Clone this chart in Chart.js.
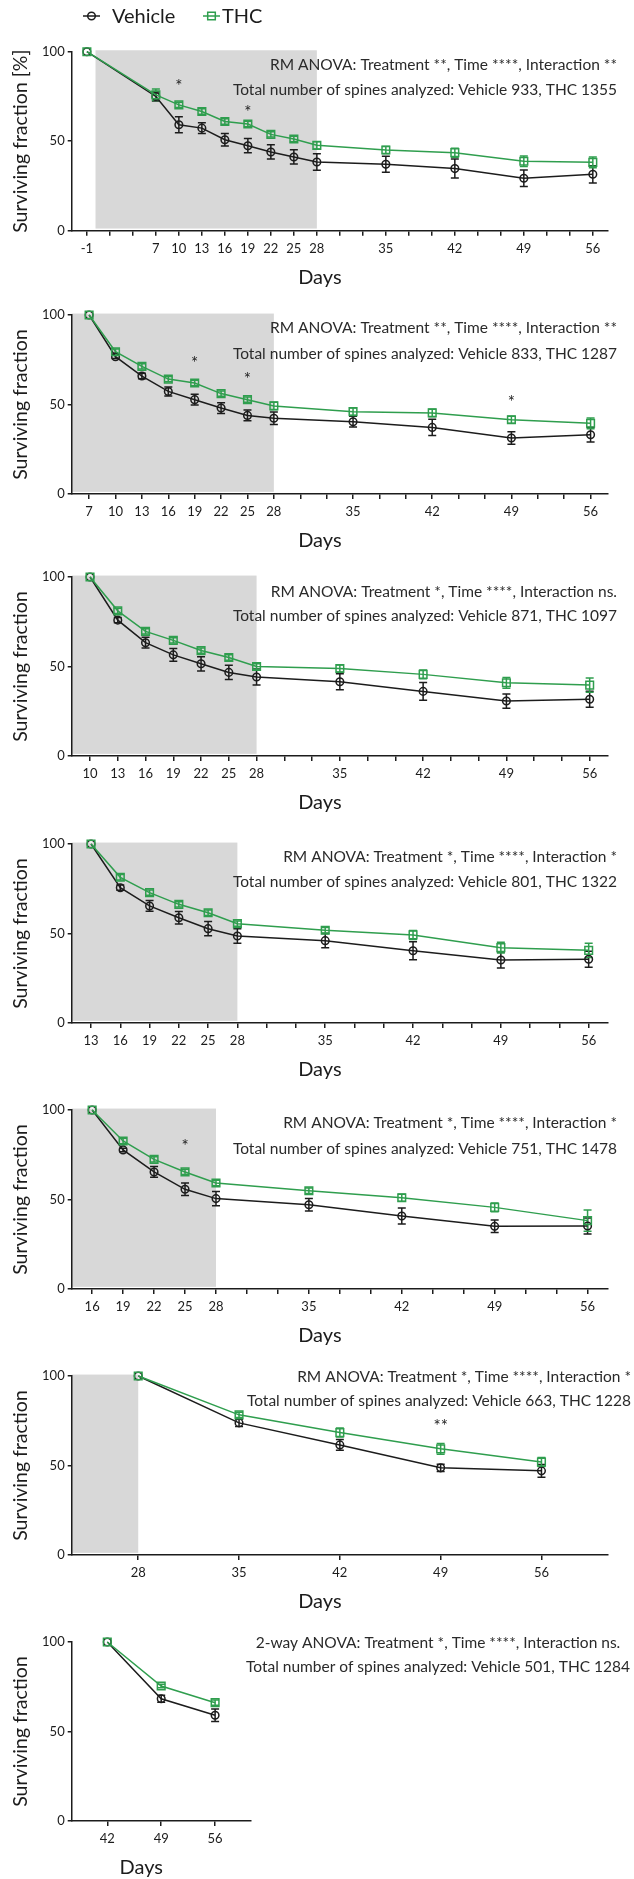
<!DOCTYPE html>
<html>
<head>
<meta charset="utf-8">
<script src="https://cdn.jsdelivr.net/npm/chart.js@4.4.0/dist/chart.umd.min.js"></script>
<style>
  html, body { margin: 0; padding: 0; background: #fff; }
  body { position: relative; width: 634px; height: 1879px; overflow: hidden; }
  canvas { position: absolute; left: 0; }
</style>
</head>
<body>
<canvas id="p1"></canvas>
<canvas id="p2"></canvas>
<canvas id="p3"></canvas>
<canvas id="p4"></canvas>
<canvas id="p5"></canvas>
<canvas id="p6"></canvas>
<canvas id="p7"></canvas>
<script>
// ---- data ----
const seriesNames = ['Vehicle', 'THC'];

// panel 1 : baseline day -1
const p1Ticks = ['-1', '', '', '7', '10', '13', '16', '19', '22', '25', '28', '', '', '35', '', '', '42', '', '', '49', '', '', '56'];
const p1Days = [-1, 7, 10, 13, 16, 19, 22, 25, 28, 35, 42, 49, 56];
const p1Vehicle = [100, 75, 59.2, 57.3, 50.8, 47.5, 44.0, 41.2, 38.4, 37.1, 34.7, 29.3, 31.5];
const p1VehicleSem = [0, 2.5, 4.5, 3, 3.5, 4, 4, 4, 4.6, 4.5, 5.3, 4.6, 4.8];
const p1Thc = [100, 75.9, 70.3, 66.6, 61.0, 59.6, 53.8, 51.2, 47.7, 45.1, 43.6, 38.8, 38.2];
const p1ThcSem = [0, 3.2, 1.5, 1.5, 1.5, 1.5, 1.5, 1.5, 2, 2, 2.5, 3, 3];
const p1StarDays = [10, 19];
const p1StarLevels = [83, 68];
const p1Stars = ['*', '*'];
const p1Stats = ['RM ANOVA: Treatment **, Time ****, Interaction **', 'Total number of spines analyzed: Vehicle 933, THC 1355'];

// panel 2 : baseline day 7
const p2Ticks = ['7', '10', '13', '16', '19', '22', '25', '28', '', '', '35', '', '', '42', '', '', '49', '', '', '56'];
const p2Days = [7, 10, 13, 16, 19, 22, 25, 28, 35, 42, 49, 56];
const p2Vehicle = [100, 76.7, 65.9, 57.3, 52.7, 48.0, 43.9, 42.3, 40.4, 37.2, 31.3, 33.1];
const p2VehicleSem = [0, 1, 1.5, 2.5, 3, 3, 3, 3.5, 3, 4.5, 3.5, 4];
const p2Thc = [100, 79.5, 71.3, 64.2, 62.0, 56.1, 52.7, 49.2, 46.0, 45.3, 41.5, 39.5];
const p2ThcSem = [0, 1.5, 1.5, 1.5, 1.5, 1.5, 1.5, 2, 2, 2, 2, 3];
const p2StarDays = [19, 25, 49];
const p2StarLevels = [74.9, 66.1, 53.6];
const p2Stars = ['*', '*', '*'];
const p2Stats = ['RM ANOVA: Treatment **, Time ****, Interaction **', 'Total number of spines analyzed: Vehicle 833, THC 1287'];

// panel 3 : baseline day 10
const p3Ticks = ['10', '13', '16', '19', '22', '25', '28', '', '', '35', '', '', '42', '', '', '49', '', '', '56'];
const p3Days = [10, 13, 16, 19, 22, 25, 28, 35, 42, 49, 56];
const p3Vehicle = [100, 75.9, 63.3, 56.5, 51.5, 46.7, 44.1, 41.5, 36.1, 30.7, 31.7];
const p3VehicleSem = [0, 1.5, 3, 3.5, 4, 4, 4.5, 4.5, 5, 4, 4.5];
const p3Thc = [100, 81.1, 69.6, 64.6, 58.9, 55.0, 50.0, 48.9, 45.6, 40.9, 39.6];
const p3ThcSem = [0, 1.5, 1.5, 1.5, 1.5, 1.5, 1.5, 2, 2.5, 3, 4];
const p3StarDays = [];
const p3StarLevels = [];
const p3Stars = [];
const p3Stats = ['RM ANOVA: Treatment *, Time ****, Interaction ns.', 'Total number of spines analyzed: Vehicle 871, THC 1097'];

// panel 4 : baseline day 13
const p4Ticks = ['13', '16', '19', '22', '25', '28', '', '', '35', '', '', '42', '', '', '49', '', '', '56'];
const p4Days = [13, 16, 19, 22, 25, 28, 35, 42, 49, 56];
const p4Vehicle = [100, 75.6, 65.4, 58.8, 52.7, 48.6, 46.0, 40.4, 35.2, 35.6];
const p4VehicleSem = [0, 1.5, 3, 3.5, 4, 4, 4, 5, 4.5, 4.5];
const p4Thc = [100, 81.4, 72.8, 66.3, 61.6, 55.5, 51.8, 49.2, 42.1, 40.6];
const p4ThcSem = [0, 1.5, 1.5, 1.5, 1.5, 1.5, 1.5, 2.5, 3, 4];
const p4StarDays = [];
const p4StarLevels = [];
const p4Stars = [];
const p4Stats = ['RM ANOVA: Treatment *, Time ****, Interaction *', 'Total number of spines analyzed: Vehicle 801, THC 1322'];

// panel 5 : baseline day 16
const p5Ticks = ['16', '19', '22', '25', '28', '', '', '35', '', '', '42', '', '', '49', '', '', '56'];
const p5Days = [16, 19, 22, 25, 28, 35, 42, 49, 56];
const p5Vehicle = [100, 77.7, 65.4, 55.7, 50.5, 47.1, 40.8, 35.0, 35.2];
const p5VehicleSem = [0, 1, 3, 3.5, 4, 3.5, 4.5, 3.5, 4.5];
const p5Thc = [100, 82.7, 72.4, 65.4, 59.2, 54.9, 51.0, 45.6, 38.2];
const p5ThcSem = [0, 1.5, 1.5, 1.5, 1.5, 1.5, 2, 2.5, 6];
const p5StarDays = [25];
const p5StarLevels = [81.8];
const p5Stars = ['*'];
const p5Stats = ['RM ANOVA: Treatment *, Time ****, Interaction *', 'Total number of spines analyzed: Vehicle 751, THC 1478'];

// panel 6 : baseline day 28
const p6Ticks = ['28', '35', '42', '49', '56'];
const p6Days = [28, 35, 42, 49, 56];
const p6Vehicle = [100, 73.8, 61.5, 48.7, 47.0];
const p6VehicleSem = [0, 2, 3, 2, 3.5];
const p6Thc = [100, 78.3, 68.4, 59.3, 51.9];
const p6ThcSem = [0, 1.5, 2.5, 3, 2.5];
const p6StarDays = [49];
const p6StarLevels = [73.8];
const p6Stars = ['**'];
const p6Stats = ['RM ANOVA: Treatment *, Time ****, Interaction *', 'Total number of spines analyzed: Vehicle 663, THC 1228'];

// panel 7 : baseline day 42
const p7Ticks = ['42', '49', '56'];
const p7Days = [42, 49, 56];
const p7Vehicle = [100, 68.3, 59.1];
const p7VehicleSem = [0, 2, 3.5];
const p7Thc = [100, 75.4, 66.1];
const p7ThcSem = [0, 1, 1.5];
const p7StarDays = [];
const p7StarLevels = [];
const p7Stars = [];
const p7Stats = ['2-way ANOVA: Treatment *, Time ****, Interaction ns.', 'Total number of spines analyzed: Vehicle 501, THC 1284'];

// treatment window (grey box), in days; null = from the axis start
const treatStart = 0;
const treatEnd = 28;

// ---- styling / layout ----
const FONT = 'Lato, "Open Sans", sans-serif';
const INK = '#1c1c1c';
const GREEN = '#2f9e4e';
const SHADE = '#d8d8d8';
const PLOT_H = 179;
const AXIS_LEFT = 71.7;
const SLOT_MARGIN = 0.66;
const STATS_WIDTH = 384;   // width of the "Total number..." line in the figure

const panels = [
  { id: 'p1', ticks: p1Ticks, days: p1Days, veh: p1Vehicle, vehSem: p1VehicleSem, thc: p1Thc, thcSem: p1ThcSem,
    starDays: p1StarDays, starLevels: p1StarLevels, stars: p1Stars, stats: p1Stats, yTitle: 'Surviving fraction [%]',
    top: 0, padTop: 51.7, right: 608, shadeFrom: treatStart, statsX: 617, statsDy: [13.3, 38.3], statsAlign: 'right', legend: true },
  { id: 'p2', ticks: p2Ticks, days: p2Days, veh: p2Vehicle, vehSem: p2VehicleSem, thc: p2Thc, thcSem: p2ThcSem,
    starDays: p2StarDays, starLevels: p2StarLevels, stars: p2Stars, stats: p2Stats, yTitle: 'Surviving fraction',
    top: 288.5, padTop: 26, right: 608, shadeFrom: null, statsX: 617, statsDy: [13, 38.6], statsAlign: 'right' },
  { id: 'p3', ticks: p3Ticks, days: p3Days, veh: p3Vehicle, vehSem: p3VehicleSem, thc: p3Thc, thcSem: p3ThcSem,
    starDays: p3StarDays, starLevels: p3StarLevels, stars: p3Stars, stats: p3Stats, yTitle: 'Surviving fraction',
    top: 551.3, padTop: 26, right: 608, shadeFrom: null, statsX: 617, statsDy: [15.3, 39.3], statsAlign: 'right' },
  { id: 'p4', ticks: p4Ticks, days: p4Days, veh: p4Vehicle, vehSem: p4VehicleSem, thc: p4Thc, thcSem: p4ThcSem,
    starDays: p4StarDays, starLevels: p4StarLevels, stars: p4Stars, stats: p4Stats, yTitle: 'Surviving fraction',
    top: 818, padTop: 26, right: 608, shadeFrom: null, statsX: 617, statsDy: [13.3, 38.3], statsAlign: 'right' },
  { id: 'p5', ticks: p5Ticks, days: p5Days, veh: p5Vehicle, vehSem: p5VehicleSem, thc: p5Thc, thcSem: p5ThcSem,
    starDays: p5StarDays, starLevels: p5StarLevels, stars: p5Stars, stats: p5Stats, yTitle: 'Surviving fraction',
    top: 1084, padTop: 26, right: 608, shadeFrom: null, statsX: 617, statsDy: [13.3, 39], statsAlign: 'right' },
  { id: 'p6', ticks: p6Ticks, days: p6Days, veh: p6Vehicle, vehSem: p6VehicleSem, thc: p6Thc, thcSem: p6ThcSem,
    starDays: p6StarDays, starLevels: p6StarLevels, stars: p6Stars, stats: p6Stats, yTitle: 'Surviving fraction',
    top: 1349.7, padTop: 26, right: 608, shadeFrom: null, statsX: 631, statsDy: [1, 25], statsAlign: 'right' },
  { id: 'p7', ticks: p7Ticks, days: p7Days, veh: p7Vehicle, vehSem: p7VehicleSem, thc: p7Thc, thcSem: p7ThcSem,
    starDays: p7StarDays, starLevels: p7StarLevels, stars: p7Stars, stats: p7Stats, yTitle: 'Surviving fraction',
    top: 1615.7, padTop: 26, right: 250.7, shadeFrom: undefined, statsX: 438, statsDy: [1, 25], statsAlign: 'center' }
];

// font size for the statistics lines so the long line has the figure's width
function statsFontSize(ctx) {
  ctx.save();
  ctx.font = '20px ' + FONT;
  const w = ctx.measureText(p1Stats[1]).width;
  ctx.restore();
  return 20 * STATS_WIDTH / w;
}

// day -> slot position on the (uneven) Prism-style x axis
function slotOf(ticks, day) {
  const idx = ticks.indexOf(String(day));
  if (idx >= 0) return idx;
  let lo = -1, hi = -1;
  ticks.forEach((t, i) => {
    if (t === '') return;
    const v = Number(t);
    if (v < day) lo = i;
    if (v > day && hi < 0) hi = i;
  });
  if (lo < 0 || hi < 0) return null;
  const a = Number(ticks[lo]), b = Number(ticks[hi]);
  return lo + (hi - lo) * (day - a) / (b - a);
}

function drawMarker(ctx, kind, x, y, color) {
  ctx.save();
  ctx.strokeStyle = color;
  ctx.lineWidth = 1.5;
  ctx.beginPath();
  if (kind === 'circle') ctx.arc(x, y, 3.8, 0, Math.PI * 2);
  else ctx.rect(x - 3.8, y - 3.8, 7.6, 7.6);
  ctx.stroke();
  ctx.restore();
}

const decor = {
  id: 'decor',
  beforeDraw(chart, args, opts) {
    const p = opts.panel;
    if (p.shadeFrom === undefined) return;
    const { ctx, scales: { x, y } } = chart;
    const x0 = p.shadeFrom === null ? x.left : x.getPixelForValue(slotOf(p.ticks, p.shadeFrom));
    const x1 = x.getPixelForValue(slotOf(p.ticks, treatEnd));
    const y0 = y.getPixelForValue(1.2);
    const y1 = y.getPixelForValue(100.8);
    ctx.save();
    ctx.fillStyle = SHADE;
    ctx.fillRect(x0, y1, x1 - x0, y0 - y1);
    ctx.restore();
  },
  beforeDatasetsDraw(chart, args, opts) {
    const p = opts.panel;
    const { ctx, scales: { x, y } } = chart;
    const bars = (vals, sems, color) => {
      ctx.save();
      ctx.strokeStyle = color;
      ctx.lineWidth = 1.5;
      p.days.forEach((d, i) => {
        if (!sems[i]) return;
        const px = x.getPixelForValue(slotOf(p.ticks, d));
        const yHi = y.getPixelForValue(vals[i] + sems[i]);
        const yLo = y.getPixelForValue(vals[i] - sems[i]);
        ctx.beginPath();
        ctx.moveTo(px, yHi); ctx.lineTo(px, yLo);
        ctx.moveTo(px - 4, yHi); ctx.lineTo(px + 4, yHi);
        ctx.moveTo(px - 4, yLo); ctx.lineTo(px + 4, yLo);
        ctx.stroke();
      });
      ctx.restore();
    };
    bars(p.veh, p.vehSem, INK);
    bars(p.thc, p.thcSem, GREEN);
  },
  afterDraw(chart, args, opts) {
    const p = opts.panel;
    const { ctx, scales: { x, y } } = chart;
    ctx.save();
    ctx.fillStyle = INK;
    // significance stars
    ctx.font = '17px ' + FONT;
    ctx.textAlign = 'center';
    ctx.textBaseline = 'middle';
    p.starDays.forEach((d, i) => {
      ctx.fillText(p.stars[i], x.getPixelForValue(slotOf(p.ticks, d)), y.getPixelForValue(p.starLevels[i]) + 4);
    });
    // statistics lines
    ctx.fillStyle = '#2a2a2a';
    ctx.font = statsFontSize(ctx).toFixed(2) + 'px ' + FONT;
    ctx.textAlign = p.statsAlign;
    p.stats.forEach((s, i) => ctx.fillText(s, p.statsX, y.top + p.statsDy[i]));
    // x axis title, Prism puts it a bit left of the axis centre
    ctx.fillStyle = INK;
    ctx.font = '20px ' + FONT;
    ctx.textAlign = 'center';
    ctx.fillText('Days', (x.left + x.right) / 2 - 20, y.bottom + 47);
    // legend
    if (p.legend) {
      const items = [[83, 112, 'circle', INK], [203, 222, 'rect', GREEN]];
      items.forEach(([lx, tx, kind, color], i) => {
        ctx.strokeStyle = color;
        ctx.lineWidth = 1.5;
        ctx.beginPath();
        ctx.moveTo(lx, 16); ctx.lineTo(lx + 17, 16);
        ctx.stroke();
        drawMarker(ctx, kind, lx + 8.5, 16, color);
        ctx.fillStyle = INK;
        ctx.font = '20px ' + FONT;
        ctx.textAlign = 'left';
        ctx.fillText(seriesNames[i], tx, 17);
      });
    }
    ctx.restore();
  }
};

panels.forEach(p => {
  const canvas = document.getElementById(p.id);
  const h = Math.round(p.padTop + PLOT_H + 62);
  canvas.width = 634;
  canvas.height = h;
  canvas.style.top = p.top + 'px';
  const xAxisH = h - p.padTop - PLOT_H;
  const pts = vals => p.days.map((d, i) => ({ x: slotOf(p.ticks, d), y: vals[i] }));

  new Chart(canvas, {
    type: 'line',
    data: {
      datasets: [
        { label: seriesNames[1], data: pts(p.thc), borderColor: GREEN, backgroundColor: 'rgba(0,0,0,0)',
          borderWidth: 1.5, pointStyle: 'rect', pointRadius: 5.4, pointBorderWidth: 1.5,
          pointBackgroundColor: 'rgba(0,0,0,0)', pointBorderColor: GREEN, tension: 0, clip: false },
        { label: seriesNames[0], data: pts(p.veh), borderColor: INK, backgroundColor: 'rgba(0,0,0,0)',
          borderWidth: 1.5, pointStyle: 'circle', pointRadius: 3.8, pointBorderWidth: 1.5,
          pointBackgroundColor: 'rgba(0,0,0,0)', pointBorderColor: INK, tension: 0, clip: false }
      ]
    },
    options: {
      responsive: false,
      animation: false,
      devicePixelRatio: 1,
      layout: { padding: { top: p.padTop, left: 0, right: 634 - p.right, bottom: 0 } },
      plugins: { legend: { display: false }, tooltip: { enabled: false }, decor: { panel: p } },
      scales: {
        x: {
          type: 'linear',
          min: -SLOT_MARGIN,
          max: p.ticks.length - 1 + SLOT_MARGIN,
          afterBuildTicks: s => { s.ticks = p.ticks.map((_, i) => ({ value: i })); },
          afterFit: s => { s.height = xAxisH; },
          ticks: { autoSkip: false, maxRotation: 0, padding: 5, color: INK, font: { family: FONT, size: 13 },
                   callback: v => p.ticks[Math.round(v)] },
          grid: { drawOnChartArea: false, drawTicks: true, tickLength: 5, color: INK, lineWidth: 1.5 },
          border: { color: INK, width: 1.5 }
        },
        y: {
          min: 0,
          max: 100,
          afterFit: s => { s.width = AXIS_LEFT; },
          ticks: { stepSize: 50, padding: 3, color: INK, font: { family: FONT, size: 13 } },
          grid: { drawOnChartArea: false, drawTicks: true, tickLength: 4, color: INK, lineWidth: 1.5 },
          border: { color: INK, width: 1.5 },
          title: { display: true, text: p.yTitle, color: INK, font: { family: FONT, size: 19.5 }, padding: { top: 9, bottom: 0 } }
        }
      }
    },
    plugins: [decor]
  });
});
</script>
</body>
</html>
